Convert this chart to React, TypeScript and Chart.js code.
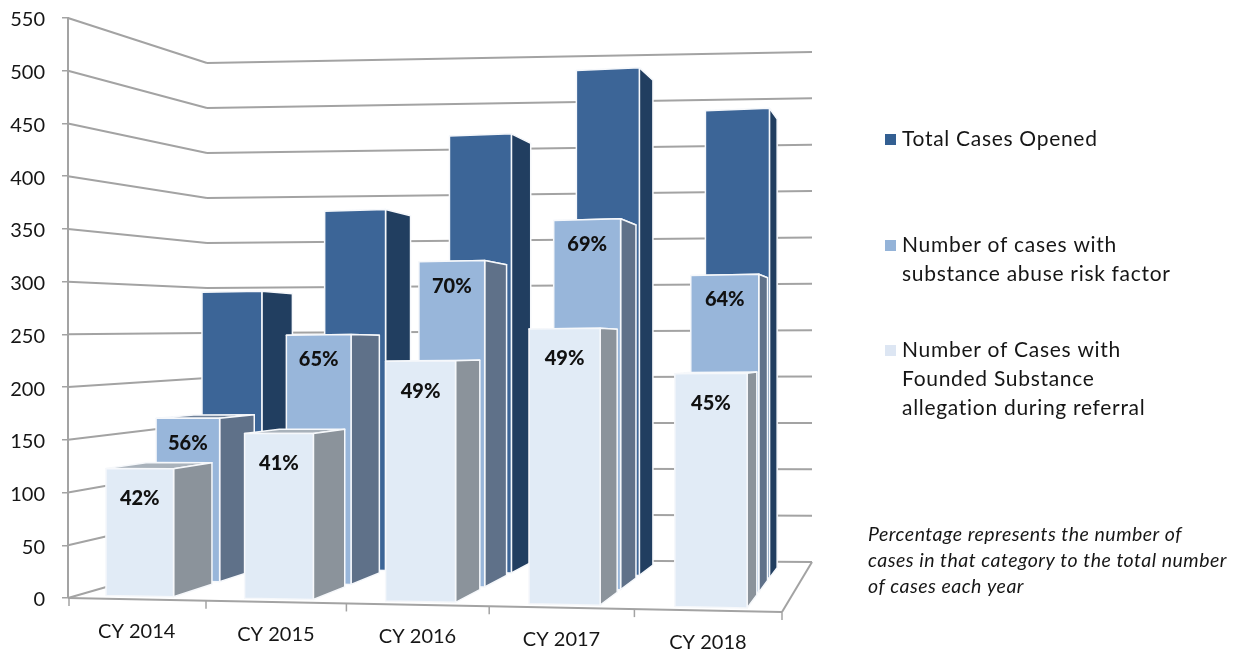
import React, { useEffect, useRef } from "react";
import { Chart, registerables } from "chart.js";

Chart.register(...registerables);

const categories = ["CY 2014", "CY 2015", "CY 2016", "CY 2017", "CY 2018"];
const totalCases = [296, 379, 453, 515, 469];
const riskFactorCases = [166, 248, 318, 355, 300];
const foundedCases = [123, 156, 222, 250, 209];
const riskFactorPct = ["56%", "65%", "70%", "69%", "64%"];
const foundedPct = ["42%", "41%", "49%", "49%", "45%"];
const seriesNames = [
  "Total Cases Opened",
  "Number of cases with substance abuse risk factor",
  "Number of Cases with Founded Substance allegation during referral",
];
const legendLines = [
  ["Total Cases Opened"],
  ["Number of cases with", "substance abuse risk factor"],
  ["Number of Cases with", "Founded Substance", "allegation during referral"],
];
const noteLines = [
  "Percentage represents the number of",
  "cases in that category to the total number",
  "of cases each year",
];

const FONT = "Lato, Carlito, sans-serif";
const TEXT = "#161616";
const AXIS = "#a3a3a3";

const faces = [
  { front: "#3c6597", side: "#213e60", top: "#2b4b72", depth: 0.885, ratio: 0.955, pct: null as string[] | null, pctDy: 0 },
  { front: "#98b6da", side: "#5f7189", top: "#6f8198", depth: 0.94, ratio: 0.952, pct: riskFactorPct, pctDy: 25 },
  { front: "#e1ebf6", side: "#8b939b", top: "#a9b2bb", depth: 1, ratio: 0.95, pct: foundedPct, pctDy: 30 },
];

const VP = { x: 941, y: 347 };

function geometry(chart: any) {
  const xs = chart.scales.x;
  const ys = chart.scales.y;
  const y0 = ys.getPixelForValue(0);
  const L = xs.left;
  const W = xs.right - xs.left;
  const warp = (px: number) => {
    const t = (px - L) / W;
    return L + W * t * (0.958 + 0.042 * t);
  };
  // front-plane point, then perspective toward the vanishing point
  const project = (fx: number, yPix: number, s: number, lift = 0) => {
    const t = (fx - L) / W;
    const base = y0 + 14 * t;
    const fy = base - (y0 - yPix) * (1 + 0.084 * t) - lift;
    return [VP.x + (fx - VP.x) * s, VP.y + (fy - VP.y) * s];
  };
  return { xs, ys, y0, L, W, warp, project };
}

function poly(ctx: CanvasRenderingContext2D, pts: number[][], fill: string) {
  ctx.beginPath();
  pts.forEach((p, i) => (i ? ctx.lineTo(p[0], p[1]) : ctx.moveTo(p[0], p[1])));
  ctx.closePath();
  ctx.fillStyle = fill;
  ctx.fill();
  ctx.strokeStyle = "#f6f8fb";
  ctx.lineWidth = 1.5;
  ctx.lineJoin = "round";
  ctx.stroke();
}

function line(ctx: CanvasRenderingContext2D, a: number[], b: number[]) {
  ctx.beginPath();
  ctx.moveTo(a[0], a[1]);
  ctx.lineTo(b[0], b[1]);
  ctx.stroke();
}

const perspectivePlugin = {
  id: "perspective",
  beforeDatasetsDraw(chart: any) {
    const { ctx } = chart;
    const { ys, y0, L, W } = geometry(chart);
    const back = [L + 139, L + 744];
    ctx.save();
    ctx.strokeStyle = AXIS;
    ctx.lineWidth = 2;
    ys.ticks.forEach((tick: any) => {
      const yp = ys.getPixelForValue(tick.value);
      const h = y0 - yp;
      const a = [L, yp];
      const b = [back[0], y0 - 40 - h * 0.8535];
      const c = [back[1], y0 - 36 - h * 0.8793];
      line(ctx, a, b);
      line(ctx, b, c);
    });
    // floor
    const frontRight = [L + W, y0 + 14];
    line(ctx, [L, y0], frontRight);
    line(ctx, frontRight, [back[1], y0 - 36]);
    ctx.restore();
  },
  beforeDatasetDraw(chart: any, args: any) {
    const { ctx } = chart;
    const { warp, project } = geometry(chart);
    const meta = chart.getDatasetMeta(args.index);
    const face = faces[args.index];
    ctx.save();
    meta.data.forEach((bar: any) => {
      const l = warp(bar.x - bar.width / 2) + 3;
      const r = warp(bar.x + bar.width / 2) + 3;
      const s = face.depth;
      const s2 = s * face.ratio;
      const b = bar.base;
      const tp = bar.y;
      poly(ctx, [project(l, tp, s), project(r, tp, s), project(r, tp, s2), project(l, tp, s2)], face.top);
      poly(ctx, [project(r, b, s, 2.5), project(r, b, s2, 2.5), project(r, tp, s2), project(r, tp, s)], face.side);
      poly(ctx, [project(l, b, s, 2.5), project(r, b, s, 2.5), project(r, tp, s), project(l, tp, s)], face.front);
    });
    ctx.restore();
    return false;
  },
  afterDatasetsDraw(chart: any) {
    const { ctx } = chart;
    const { xs, y0, L, W, warp, project } = geometry(chart);
    ctx.save();
    // percentage labels
    ctx.font = `900 20px ${FONT}`;
    ctx.fillStyle = "#111111";
    ctx.textAlign = "center";
    ctx.textBaseline = "middle";
    faces.forEach((face, d) => {
      if (!face.pct) return;
      chart.getDatasetMeta(d).data.forEach((bar: any, i: number) => {
        const l = warp(bar.x - bar.width / 2) + 3;
        const r = warp(bar.x + bar.width / 2) + 3;
        const pl = project(l, bar.y, face.depth);
        const pr = project(r, bar.y, face.depth);
        ctx.fillText(face.pct![i], (pl[0] + pr[0]) / 2, (pl[1] + pr[1]) / 2 + face.pctDy);
      });
    });

    // category axis ticks and labels follow the slanted front edge
    ctx.strokeStyle = AXIS;
    ctx.lineWidth = 1.5;
    for (let i = 0; i <= categories.length; i++) {
      const x = warp(L + (W * i) / categories.length);
      const yy = y0 + 14 * ((x - L) / W);
      line(ctx, [x + (i === 0 ? 1 : 0), yy], [x + (i === 0 ? 1 : 0), yy + 8]);
    }
    ctx.font = `20px ${FONT}`;
    ctx.fillStyle = TEXT;
    categories.forEach((c, i) => {
      const x = warp(xs.getPixelForValue(i));
      const yy = y0 + 14 * ((x - L) / W) + 32;
      ctx.fillText(c, x, yy);
    });

    // legend
    ctx.textAlign = "left";
    ctx.font = `21px ${FONT}`;
    (ctx as any).letterSpacing = "0.7px";
    const legendY = [139, 245, 350];
    legendLines.forEach((lines, d) => {
      ctx.fillStyle = d === 2 ? "#dde6f3" : d === 1 ? "#94b3d8" : "#335f92";
      ctx.fillRect(885, legendY[d] - 5, 11, 11);
      ctx.fillStyle = TEXT;
      lines.forEach((t, j) => ctx.fillText(t, 902, legendY[d] + j * 29));
    });

    // note
    ctx.font = `italic 19.5px ${FONT}`;
    (ctx as any).letterSpacing = "0.5px";
    noteLines.forEach((t, j) => ctx.fillText(t, 868, 535 + j * 26));
    ctx.restore();
  },
};

export default function App() {
  const ref = useRef<HTMLCanvasElement>(null);
  useEffect(() => {
    if (!ref.current) return;
    const makeSet = (label: string, data: number[], order: number, color: string) => ({
      label,
      data,
      order,
      backgroundColor: color,
      grouped: false,
      barPercentage: 0.49,
      categoryPercentage: 1,
    });
    const chart = new Chart(ref.current, {
      type: "bar",
      data: {
        labels: categories,
        datasets: [
          makeSet(seriesNames[0], totalCases, 3, faces[0].front),
          makeSet(seriesNames[1], riskFactorCases, 2, faces[1].front),
          makeSet(seriesNames[2], foundedCases, 1, faces[2].front),
        ],
      },
      options: {
        animation: false,
        responsive: false,
        layout: { padding: { top: 18, bottom: 54, left: 0, right: 453 } },
        plugins: { legend: { display: false }, tooltip: { enabled: false } },
        scales: {
          x: { display: false, grid: { display: false } },
          y: {
            min: 0,
            max: 550,
            afterFit: (s: any) => {
              s.width = 68;
              s.paddingTop = 0;
              s.paddingBottom = 0;
            },
            border: { display: true, color: AXIS, width: 2 },
            grid: { drawOnChartArea: false, color: AXIS, tickLength: 6, lineWidth: 1.5 },
            ticks: { stepSize: 50, padding: 17, labelOffset: 2, color: TEXT, font: { family: FONT, size: 20 } },
          },
        },
      } as any,
      plugins: [perspectivePlugin as any],
    });
    return () => chart.destroy();
  }, []);
  return (
    <div style={{ position: "absolute", left: 0, top: 0, width: 1235, height: 652, background: "#fff" }}>
      <canvas ref={ref} width={1235} height={652} style={{ display: "block" }} />
    </div>
  );
}
